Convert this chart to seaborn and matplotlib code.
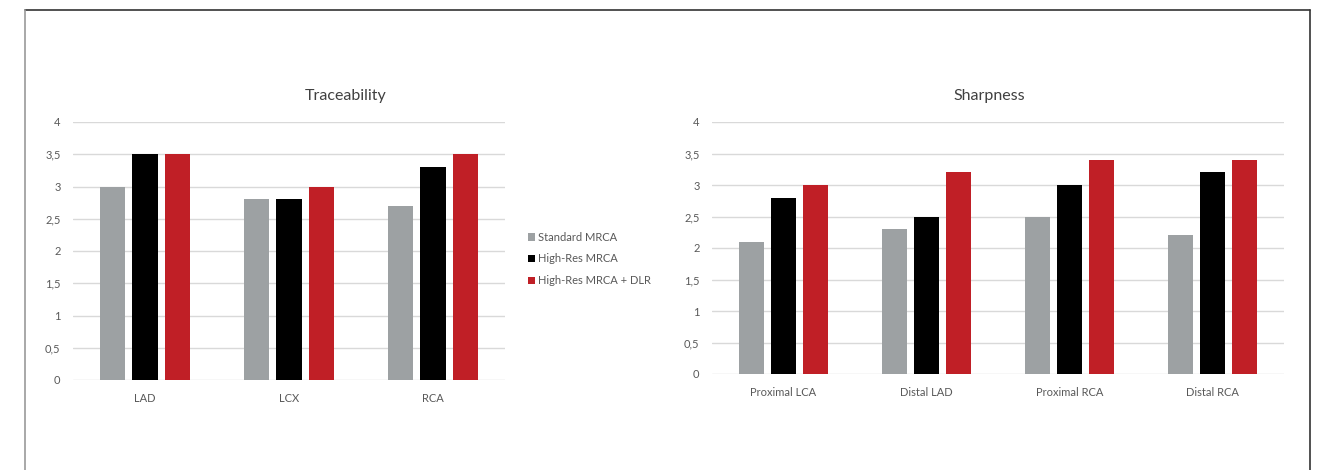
"""
Traceability / sharpness scores for standard vs high-res MRCA (+ DLR).
Two grouped bar panels, Excel-like styling, shared legend in between.
"""

import matplotlib
matplotlib.use("Agg")
import matplotlib.pyplot as plt
from matplotlib.lines import Line2D
from matplotlib.ticker import FuncFormatter
import pandas as pd
import seaborn as sns

# --------------------------------------------------------------------------- #
# Data
# --------------------------------------------------------------------------- #
METHODS = ["Standard MRCA", "High-Res MRCA", "High-Res MRCA + DLR"]

TRACE_SEGMENTS = ["LAD", "LCX", "RCA"]
TRACE_STANDARD = [3.0, 2.8, 2.7]
TRACE_HIGHRES = [3.5, 2.8, 3.3]
TRACE_DLR = [3.5, 3.0, 3.5]

SHARP_SEGMENTS = ["Proximal LCA", "Distal LAD", "Proximal RCA", "Distal RCA"]
SHARP_STANDARD = [2.1, 2.3, 2.5, 2.2]
SHARP_HIGHRES = [2.8, 2.5, 3.0, 3.2]
SHARP_DLR = [3.0, 3.2, 3.4, 3.4]

Y_TICKS = [0, 0.5, 1, 1.5, 2, 2.5, 3, 3.5, 4]

PALETTE = {"Standard MRCA": "#9da1a3",
           "High-Res MRCA": "#000000",
           "High-Res MRCA + DLR": "#c01f26"}
TEXT_COLOR = "#595959"
GRID_COLOR = "#d9d9d9"


def to_long(segments, *series):
    rows = []
    for method, vals in zip(METHODS, series):
        for seg, v in zip(segments, vals):
            rows.append({"segment": seg, "method": method, "score": v})
    return pd.DataFrame(rows)


def style_axis(ax, n_cat, title_x, title):
    ax.set_xlim(-0.5, n_cat - 0.5)
    ax.set_ylim(0, 4)
    ax.set_yticks(Y_TICKS)
    ax.yaxis.set_major_formatter(FuncFormatter(lambda v, _: f"{v:g}".replace(".", ",")))
    ax.grid(axis="y", color=GRID_COLOR, lw=1)
    ax.set_axisbelow(True)
    for s in ax.spines.values():
        s.set_visible(False)
    ax.tick_params(length=0, labelsize=8, colors=TEXT_COLOR)
    ax.tick_params(axis="y", pad=9)
    ax.tick_params(axis="x", pad=9)
    ax.set_xlabel("")
    ax.set_ylabel("")
    ax.figure.text(title_x, 1 - 96 / 470, title, ha="center", va="center",
                   fontsize=11.5, color="#404040")


sns.set_style("white")
plt.rcParams["font.family"] = ["Lato", "DejaVu Sans"]

fig = plt.figure(figsize=(13.26, 4.70), dpi=100)
ax1 = fig.add_axes([73 / 1326, 1 - 380 / 470, 432 / 1326, 258 / 470])
ax2 = fig.add_axes([712 / 1326, 1 - 374 / 470, 572 / 1326, 252 / 470])

trace = to_long(TRACE_SEGMENTS, TRACE_STANDARD, TRACE_HIGHRES, TRACE_DLR)
sharp = to_long(SHARP_SEGMENTS, SHARP_STANDARD, SHARP_HIGHRES, SHARP_DLR)

sns.barplot(data=trace, x="segment", y="score", hue="method", hue_order=METHODS,
            palette=PALETTE, saturation=1, width=0.67, gap=0.22, linewidth=0, ax=ax1)
sns.barplot(data=sharp, x="segment", y="score", hue="method", hue_order=METHODS,
            palette=PALETTE, saturation=1, width=0.67, gap=0.22, linewidth=0, ax=ax2,
            legend=False)

handles, labels = ax1.get_legend_handles_labels()
ax1.get_legend().remove()

style_axis(ax1, len(TRACE_SEGMENTS), 346 / 1326, "Traceability")
style_axis(ax2, len(SHARP_SEGMENTS), 989 / 1326, "Sharpness")

fig.legend(handles, labels, loc="center left", bbox_to_anchor=(518 / 1326, 1 - 259 / 470),
           frameon=False, fontsize=8, labelcolor=TEXT_COLOR, handlelength=0.6,
           handleheight=0.6, handletextpad=0.3, labelspacing=0.95)

# outer frame of the source figure
fig.add_artist(Line2D([25 / 1326, 1310 / 1326], [1 - 10 / 470] * 2, color="#333333", lw=1.2))
fig.add_artist(Line2D([1310 / 1326] * 2, [1 - 10 / 470, 0], color="#333333", lw=1.2))
fig.add_artist(Line2D([25 / 1326] * 2, [1 - 10 / 470, 0], color="#999999", lw=1.2))

fig.savefig("out.png", dpi=100)
plt.close(fig)
